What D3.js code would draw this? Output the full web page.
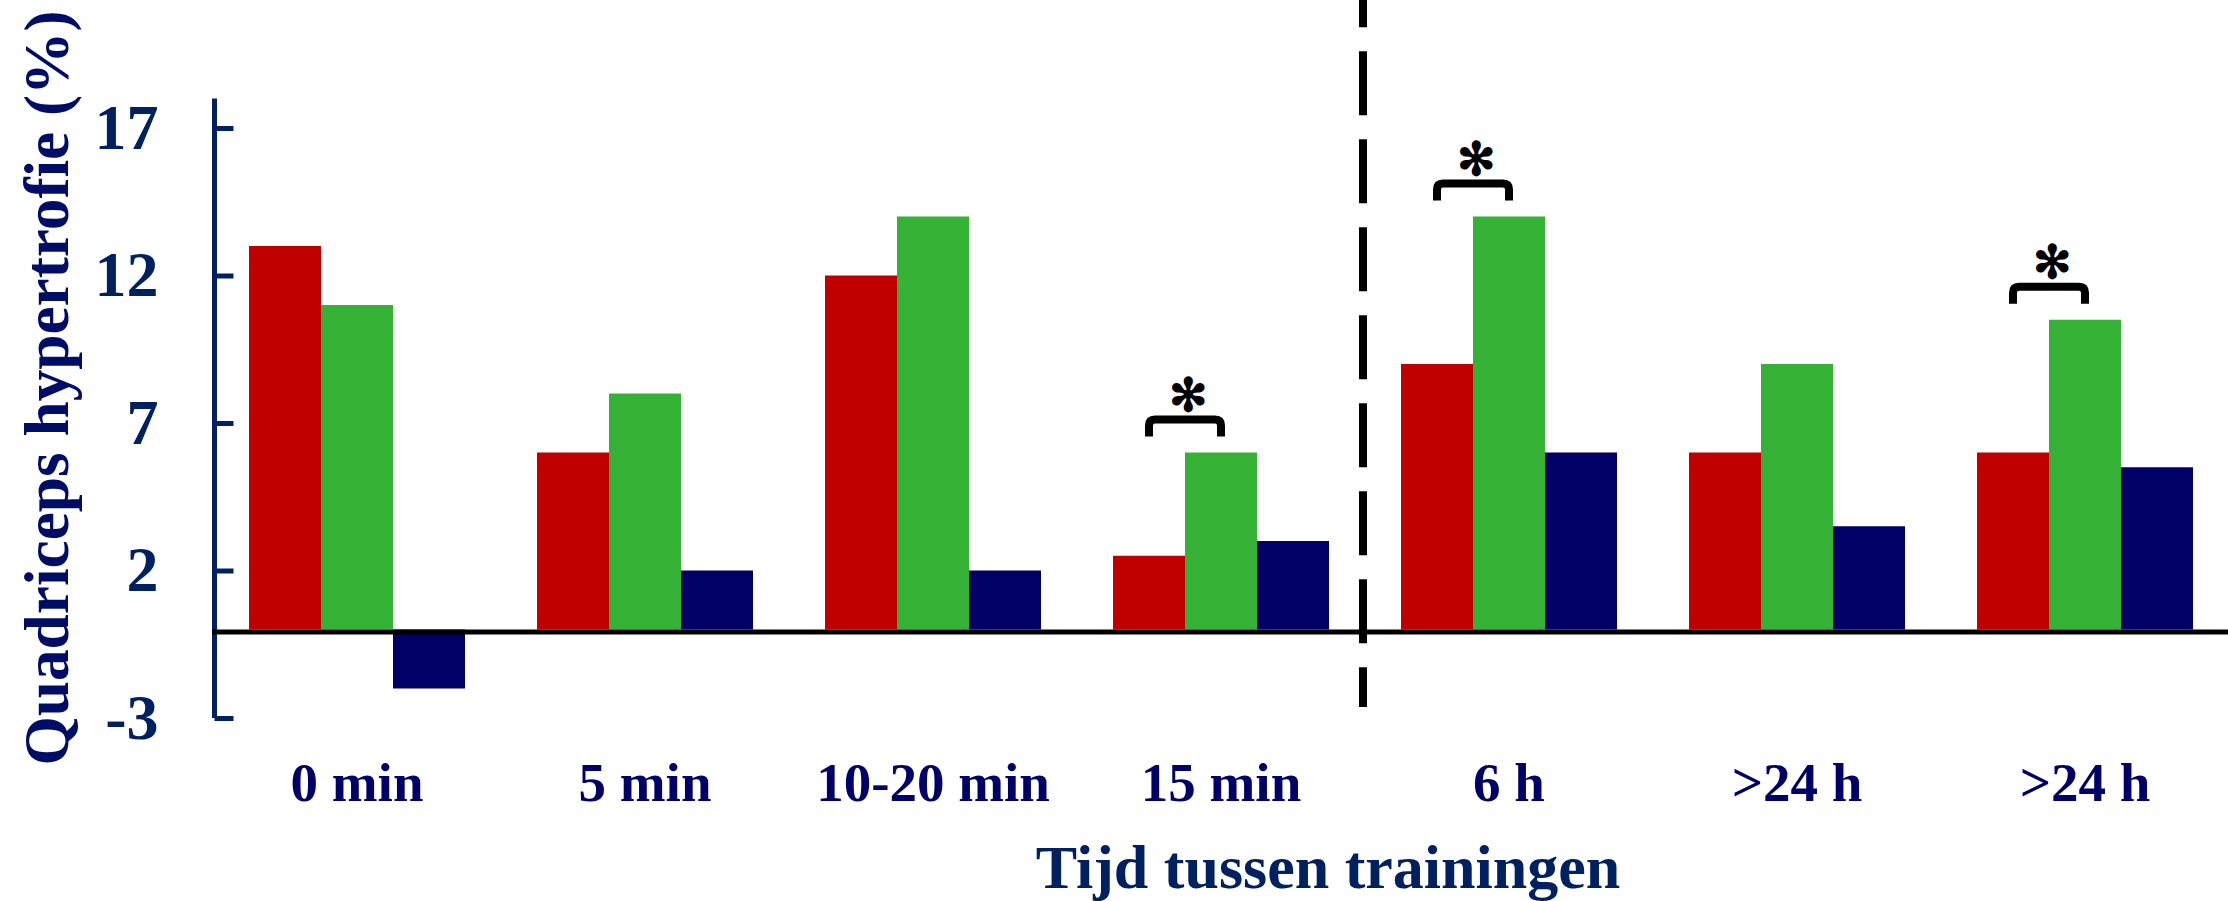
<!DOCTYPE html>
<html>
<head>
<meta charset="utf-8">
<script src="https://cdn.jsdelivr.net/npm/d3@7"></script>
<style>
  body { margin: 0; background: #fff; }
  text { font-family: "Times New Roman", "Liberation Serif", serif; font-weight: bold; }
</style>
</head>
<body>
<div id="chart"></div>
<script>
// Groups along the x axis (the last label appears twice in the original)
const categories = ["0 min", "5 min", "10-20 min", "15 min", "6 h", ">24 h", ">24 h"];

// Three series
const redValues   = [13, 6, 12, 2.5, 9, 6, 6];
const greenValues = [11, 8, 14, 6, 14, 9, 10.5];
const navyValues  = [-2, 2, 2, 3, 6, 3.5, 5.5];

const yTicks = [-3, 2, 7, 12, 17];

// groups with a significance bracket (red vs green)
const significantGroups = [3, 4, 6];

const colors = ["#c00000", "#35b235", "#000066"];

const width = 2228;
const height = 901;

const svg = d3.select("#chart")
  .append("svg")
  .attr("width", width)
  .attr("height", height);

const x = d3.scaleBand()
  .domain(d3.range(categories.length))
  .range([213, 2229])
  .paddingInner(0.25)
  .paddingOuter(0.125);

const xSub = d3.scaleBand()
  .domain([0, 1, 2])
  .range([0, x.bandwidth()]);

const y = d3.scaleLinear()
  .domain([-3, 18])
  .range([718, 98.5]);

// bars
const rows = categories.map((c, i) => [redValues[i], greenValues[i], navyValues[i]]);

const groups = svg.selectAll("g.group")
  .data(rows)
  .enter()
  .append("g")
  .attr("class", "group")
  .attr("transform", (d, i) => `translate(${x(i)},0)`);

groups.selectAll("rect")
  .data(d => d)
  .enter()
  .append("rect")
  .attr("x", (d, j) => xSub(j))
  .attr("width", xSub.bandwidth())
  .attr("y", d => y(Math.max(0, d)))
  .attr("height", d => Math.abs(y(d) - y(0)))
  .attr("fill", (d, j) => colors[j]);

// y axis, ticks pointing inward
const yAxis = d3.axisLeft(y)
  .tickValues(yTicks)
  .tickFormat(d => String(d))   // plain hyphen for -3
  .tickSize(-19)
  .tickSizeOuter(0)
  .tickPadding(56);

const axisG = svg.append("g")
  .attr("transform", "translate(214.5,0)")
  .call(yAxis);

axisG.select(".domain")
  .attr("stroke", "#002060")
  .attr("stroke-width", 5)
  .attr("d", `M0,${y(-3)}V${y(18)}`);
axisG.selectAll(".tick line")
  .attr("stroke", "#002060")
  .attr("stroke-width", 5);
axisG.selectAll(".tick text")
  .attr("fill", "#002060")
  .attr("font-size", 64)
  .attr("font-family", "'Times New Roman', 'Liberation Serif', serif")
  .attr("font-weight", "bold");

// zero line
svg.append("line")
  .attr("x1", 212)
  .attr("x2", width)
  .attr("y1", y(0) + 2.5)
  .attr("y2", y(0) + 2.5)
  .attr("stroke", "#000")
  .attr("stroke-width", 5);

// dashed divider between 15 min and 6 h
const divX = (x(3) + x.bandwidth() + x(4)) / 2 - 2;
svg.append("line")
  .attr("x1", divX)
  .attr("x2", divX)
  .attr("y1", -36.7)
  .attr("y2", y(-3) - 11)
  .attr("stroke", "#000")
  .attr("stroke-width", 8)
  .attr("stroke-dasharray", "64,24");

// category labels
svg.selectAll("text.cat")
  .data(categories)
  .enter()
  .append("text")
  .attr("class", "cat")
  .attr("x", (d, i) => x(i) + x.bandwidth() / 2)
  .attr("y", 801)
  .attr("text-anchor", "middle")
  .attr("fill", "#000066")
  .attr("font-size", 55)
  .text(d => d);

// significance brackets
significantGroups.forEach(g => {
  const left = x(g) + xSub(0) + xSub.bandwidth() / 2;
  const right = x(g) + xSub(1) + xSub.bandwidth() / 2;
  const legBottom = y(Math.max(redValues[g], greenValues[g])) - 16;
  const top = legBottom - 17;
  const r = 6;
  svg.append("path")
    .attr("d", `M${left},${legBottom}V${top + r}Q${left},${top} ${left + r},${top}H${right - r}Q${right},${top} ${right},${top + r}V${legBottom}`)
    .attr("fill", "none")
    .attr("stroke", "#000")
    .attr("stroke-width", 8);
  svg.append("text")
    .attr("x", (left + right) / 2 + 3)
    .attr("y", top - 25)
    .attr("dy", "0.35em")
    .attr("text-anchor", "middle")
    .attr("font-size", 46)
    .attr("font-weight", "normal")
    .attr("font-family", "'DejaVu Sans', sans-serif")
    .attr("fill", "#000")
    .text("\u273B");
});

// axis titles
svg.append("text")
  .attr("transform", "translate(68,388) rotate(-90)")
  .attr("text-anchor", "middle")
  .attr("fill", "#000d66")
  .attr("font-size", 64)
  .attr("textLength", 755)
  .attr("lengthAdjust", "spacingAndGlyphs")
  .text("Quadriceps hypertrofie (%)");

svg.append("text")
  .attr("x", 1328)
  .attr("y", 888)
  .attr("text-anchor", "middle")
  .attr("fill", "#002060")
  .attr("font-size", 62)
  .text("Tijd tussen trainingen");
</script>
</body>
</html>
